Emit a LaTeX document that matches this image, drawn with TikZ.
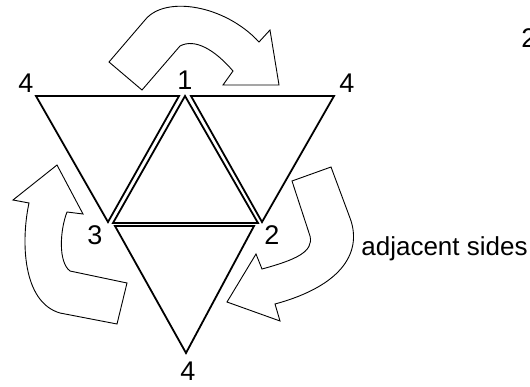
\documentclass[tikz,border=0pt]{standalone}
\usepackage{fontspec}
\setmainfont{Liberation Sans}
\begin{document}
\begin{tikzpicture}[x=0.5pt,y=-0.5pt,
  tri/.style={draw=black,line width=0.9pt,line join=miter},
  blockarrow/.style={draw=black,line width=0.45pt,fill=white,line join=miter},
  lbl/.style={inner sep=0pt,font=\fontsize{13.5}{15}\selectfont}]
\useasboundingbox (0,0) rectangle (530,386);
% triangles
\draw[tri] (36,96) -- (179,96) -- (108,222) -- cycle;
\draw[tri] (191,96) -- (334,96) -- (262,222) -- cycle;
\draw[tri] (185,96) -- (258,223) -- (113,223) -- cycle;
\draw[tri] (115,226) -- (254,226) -- (186,353) -- cycle;
% curved block arrows
\draw[blockarrow] (109,62) -- (145,20) .. controls (165,-5) and (225,5) .. (259,42)
  -- (270,30) -- (279,85) -- (223,85) -- (233,71)
  .. controls (215,50) and (195,38) .. (180,46) -- (142,90) -- cycle;
\draw[blockarrow] (57,165) -- (13,200) -- (29,203)
  .. controls (21,240) and (22,302) .. (60,313) -- (117,324) -- (127,283) -- (70,271)
  .. controls (58,262) and (60,230) .. (67,212) -- (83,214) -- cycle;
\draw[blockarrow] (331,167) -- (350,218) .. controls (362,250) and (345,285) .. (275,304)
  -- (280,321) -- (227,302) -- (256,254) -- (262,269)
  .. controls (295,260) and (314,252) .. (310,236) -- (292,181) -- cycle;
% labels
\node[lbl] (n1) at (185,80) {1};
\node[lbl] (n4l) at (26,83) {4};
\node[lbl] (n4r) at (347,83) {4};
\node[lbl] (n3) at (95,235) {3};
\node[lbl] (n2) at (272,235) {2};
\node[lbl] (n4b) at (188,371) {4};
\node[lbl,anchor=base west,font=\fontsize{13}{15}\selectfont] (adj) at (361,255) {adjacent sides};
\node[lbl,anchor=west] (n2t) at (521,38) {2};
\end{tikzpicture}
\end{document}
